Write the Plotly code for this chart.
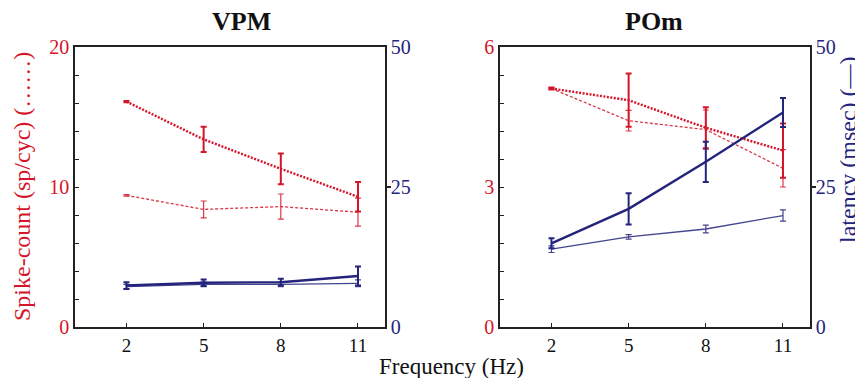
import plotly.graph_objects as go

# ---------------- data ----------------
freq = [2, 5, 8, 11]
freq_ticks = [2, 5, 8, 11]

# VPM spike-count (sp/cyc)
vpm_sc_thick = [16.1, 13.4, 11.3, 9.3]
vpm_sc_thick_err = [0.05, 0.9, 1.1, 1.05]
vpm_sc_thin = [9.4, 8.4, 8.6, 8.2]
vpm_sc_thin_err = [0.05, 0.6, 0.9, 1.0]
# VPM latency (msec)
vpm_lat_thick = [7.4, 7.9, 8.0, 9.1]
vpm_lat_thick_err = [0.6, 0.6, 0.6, 1.7]
vpm_lat_thin = [7.2, 7.6, 7.6, 7.8]
vpm_lat_thin_err = [0.4, 0.4, 0.4, 0.6]

# POm spike-count (sp/cyc)
pom_sc_thick = [5.11, 4.86, 4.27, 3.78]
pom_sc_thick_err = [0.02, 0.57, 0.44, 0.58]
pom_sc_thin = [5.11, 4.42, 4.23, 3.4]
pom_sc_thin_err = [0.02, 0.22, 0.42, 0.4]
# POm latency (msec)
pom_lat_thick = [14.95, 21.1, 29.5, 38.3]
pom_lat_thick_err = [0.9, 2.8, 3.6, 2.6]
pom_lat_thin = [13.9, 16.1, 17.5, 19.9]
pom_lat_thin_err = [0.6, 0.4, 0.7, 1.0]

RED = "#d4152a"
BLUE = "#24247c"
FONT = "Liberation Serif"
W, H = 863, 378
OFF = 8  # page body margin offset

fig = go.Figure()


def add(x, y, err, color, width, dash, xa, ya, opacity=1.0, errw=1.5):
    fig.add_trace(go.Scatter(
        x=x, y=y, mode="lines", xaxis=xa, yaxis=ya,
        line=dict(color=color, width=width, dash=dash),
        opacity=opacity,
        error_y=dict(type="data", array=err, visible=True, color=color,
                     thickness=errw, width=3),
        showlegend=False, hoverinfo="skip"))


# VPM
add(freq, vpm_sc_thin, vpm_sc_thin_err, RED, 1.3, "3px,2px", "x", "y", 0.85, 1.2)
add(freq, vpm_sc_thick, vpm_sc_thick_err, RED, 2.4, "2px,1.5px", "x", "y", 1.0, 2.0)
add(freq, vpm_lat_thin, vpm_lat_thin_err, BLUE, 1.3, "solid", "x", "y2", 0.85, 1.2)
add(freq, vpm_lat_thick, vpm_lat_thick_err, BLUE, 2.4, "solid", "x", "y2", 1.0, 2.0)
# POm
add(freq, pom_sc_thin, pom_sc_thin_err, RED, 1.3, "3px,2px", "x2", "y3", 0.85, 1.2)
add(freq, pom_sc_thick, pom_sc_thick_err, RED, 2.4, "2px,1.5px", "x2", "y3", 1.0, 2.0)
add(freq, pom_lat_thin, pom_lat_thin_err, BLUE, 1.3, "solid", "x2", "y4", 0.85, 1.2)
add(freq, pom_lat_thick, pom_lat_thick_err, BLUE, 2.4, "solid", "x2", "y4", 1.0, 2.0)

# screen pixel -> paper helpers (margins are zero, so paper == full figure)
px = lambda v: (v - OFF) / W
py = lambda v: 1 - (v - OFF) / H

dom_x1 = [px(75), px(385)]
dom_x2 = [px(500), px(810)]
dom_y = [py(327), py(47)]

LINE = dict(showline=True, linecolor="#222", linewidth=1.5, showgrid=False,
            zeroline=False, automargin=False, fixedrange=True)

xcommon = dict(range=[0, 12.05], tickvals=freq_ticks, ticks="inside",
               ticklen=4, tickcolor="#222", tickwidth=1,
               tickfont=dict(family=FONT, size=19, color="#111"),
               mirror=True, **LINE)

def yleft(rng, dtick, minor_dtick):
    return dict(range=rng, tickvals=[rng[0], rng[0] + dtick, rng[1]],
                ticks="inside", ticklen=4, tickcolor="#222", tickwidth=1,
                minor=dict(dtick=minor_dtick, ticks="inside", ticklen=4,
                           tickcolor="#222", tickwidth=1),
                tickfont=dict(family=FONT, size=20, color=RED),
                domain=dom_y, **LINE)

def yright(anchor, overlay):
    return dict(range=[0, 50], tickvals=[0, 25, 50], ticks="",
                minor=dict(tickvals=[25], ticks="outside", ticklen=4,
                           tickcolor="#222", tickwidth=1.5),
                tickfont=dict(family=FONT, size=20, color=BLUE),
                side="right", overlaying=overlay, anchor=anchor, **LINE)

fig.update_layout(
    template="none",
    width=W, height=H,
    margin=dict(l=0, r=0, t=0, b=0, pad=0),
    paper_bgcolor="white", plot_bgcolor="white",
    showlegend=False,
    xaxis=dict(domain=dom_x1, anchor="y", **xcommon),
    xaxis2=dict(domain=dom_x2, anchor="y3", **xcommon),
    yaxis=dict(anchor="x", **yleft([0, 20], 10, 2)),
    yaxis2=yright("x", "y"),
    yaxis3=dict(anchor="x2", **yleft([0, 6], 3, 0.6)),
    yaxis4=yright("x2", "y3"),
    font=dict(family=FONT),
    annotations=[
        dict(text="<b>VPM</b>", x=px(241), y=py(21), xref="paper", yref="paper",
             showarrow=False, font=dict(family=FONT, size=26, color="#111"),
             xanchor="center", yanchor="middle"),
        dict(text="<b>POm</b>", x=px(654), y=py(21), xref="paper", yref="paper",
             showarrow=False, font=dict(family=FONT, size=26, color="#111"),
             xanchor="center", yanchor="middle"),
        dict(text="Frequency (Hz)", x=px(451), y=py(366), xref="paper",
             yref="paper", showarrow=False,
             font=dict(family=FONT, size=23, color="#111"),
             xanchor="center", yanchor="middle"),
        dict(text="Spike-count (sp/cyc) (……)", x=px(22), y=py(187),
             xref="paper", yref="paper", showarrow=False, textangle=-90,
             font=dict(family=FONT, size=24, color=RED),
             xanchor="center", yanchor="middle"),
        dict(text="latency (msec) (—)", x=px(848), y=py(150),
             xref="paper", yref="paper", showarrow=False, textangle=-90,
             font=dict(family=FONT, size=24, color=BLUE),
             xanchor="center", yanchor="middle"),
    ],
)

fig.write_html("out.html")
